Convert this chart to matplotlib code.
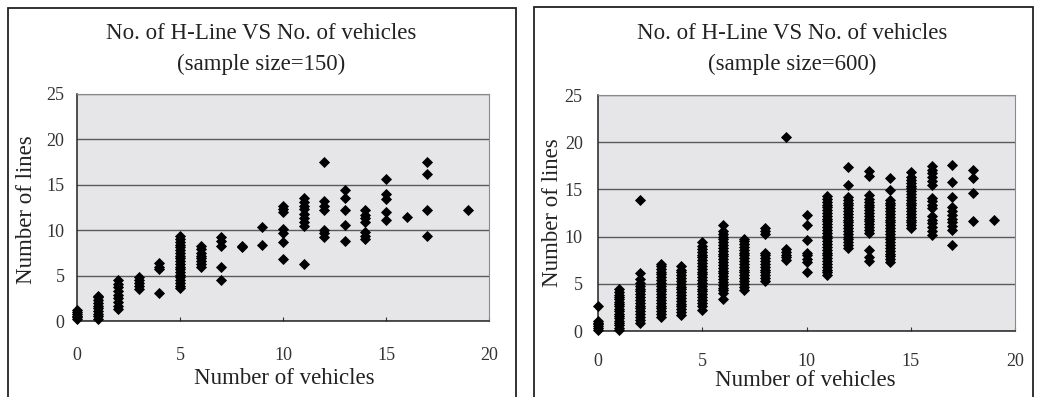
import matplotlib
matplotlib.use("Agg")
import matplotlib.pyplot as plt
from matplotlib.patches import Rectangle

plt.rcParams["font.family"] = ["Liberation Serif", "DejaVu Serif"]

# number of lines observed for each vehicle count, sample of 150
small_counts = {
    0: [0.2, 0.4, 0.6, 0.8, 1.0, 1.2],
    1: [0.2, 0.5, 0.8, 1.1, 1.4, 1.7, 2.0, 2.3, 2.6, 2.8],
    2: [1.3, 1.7, 2.1, 2.5, 2.9, 3.3, 3.7, 4.1, 4.5],
    3: [3.5, 3.9, 4.2, 4.5, 4.9],
    4: [3.1, 5.7, 6.0, 6.4],
    5: [3.6, 3.9, 4.2, 4.5, 4.8, 5.1, 5.4, 5.7, 6.0, 6.3, 6.6, 6.9,
        7.2, 7.5, 7.8, 8.1, 8.4, 8.7, 9.0, 9.4],
    6: [6.0, 6.3, 6.6, 6.9, 7.2, 7.5, 7.9, 8.3],
    7: [4.5, 5.9, 8.3, 8.8, 9.2],
    8: [8.1, 8.3],
    9: [8.4, 10.4],
    10: [6.8, 8.7, 9.7, 10.1, 12.0, 12.3, 12.7],
    11: [6.3, 10.5, 10.9, 11.3, 11.8, 12.3, 12.7, 13.1, 13.6],
    12: [9.2, 9.7, 10.0, 12.2, 12.7, 13.2, 17.5],
    13: [8.8, 10.6, 12.2, 13.5, 14.4],
    14: [9.0, 9.4, 9.8, 10.9, 11.3, 11.7, 12.2],
    15: [11.1, 12.0, 13.4, 14.0, 15.6],
    16: [11.5],
    17: [9.4, 12.2, 16.2, 17.5],
    19: [12.2],
}

# same survey, sample of 600
large_counts = {
    0: [0.1, 0.3, 0.5, 0.7, 0.9, 1.1, 2.6],
    1: [0.1, 0.35, 0.6, 0.85, 1.1, 1.35, 1.6, 1.85, 2.1, 2.35, 2.6, 2.85,
        3.1, 3.35, 3.6, 3.85, 4.1, 4.4],
    2: [0.9, 1.2, 1.5, 1.8, 2.1, 2.4, 2.7, 3.0, 3.3, 3.6, 3.9, 4.2, 4.5,
        4.8, 5.1, 5.5, 6.1, 13.9],
    3: [1.5, 1.8, 2.1, 2.4, 2.7, 3.0, 3.3, 3.6, 3.9, 4.2, 4.5, 4.8, 5.1,
        5.4, 5.7, 6.0, 6.3, 6.6, 6.9, 7.1],
    4: [1.7, 2.0, 2.3, 2.6, 2.9, 3.2, 3.5, 3.8, 4.1, 4.4, 4.7, 5.0, 5.3,
        5.6, 5.9, 6.2, 6.5, 6.9],
    5: [2.2, 2.6, 3.0, 3.3, 3.6, 3.9, 4.2, 4.5, 4.8, 5.1, 5.4, 5.7, 6.0,
        6.3, 6.6, 6.9, 7.2, 7.5, 7.8, 8.1, 8.4, 8.7, 9.0, 9.4],
    6: [3.4, 4.0, 4.3, 4.6, 4.9, 5.2, 5.5, 5.8, 6.1, 6.4, 6.7, 7.0, 7.3,
        7.6, 7.9, 8.2, 8.5, 8.8, 9.1, 9.4, 9.7, 10.0, 10.3, 10.6, 11.2],
    7: [4.3, 4.7, 5.0, 5.3, 5.6, 5.9, 6.2, 6.5, 6.8, 7.1, 7.4, 7.7, 8.0,
        8.3, 8.6, 8.9, 9.2, 9.5, 9.7],
    8: [5.3, 5.6, 5.9, 6.2, 6.5, 6.8, 7.1, 7.4, 7.7, 8.0, 8.3, 10.3, 10.6,
        10.9],
    9: [7.5, 7.8, 8.1, 8.4, 8.7, 20.6],
    10: [6.3, 7.3, 7.6, 8.0, 8.3, 9.6, 11.2, 12.3],
    11: [5.9, 6.2, 6.5, 6.8, 7.1, 7.4, 7.7, 8.0, 8.3, 8.6, 8.9, 9.2, 9.5,
         9.8, 10.1, 10.4, 10.7, 11.0, 11.3, 11.6, 11.9, 12.2, 12.5, 12.8,
         13.1, 13.4, 13.7, 14.0, 14.3],
    12: [8.8, 9.1, 9.4, 9.7, 10.0, 10.3, 10.6, 10.9, 11.2, 11.5, 11.8, 12.1,
         12.4, 12.7, 13.0, 13.3, 13.6, 13.9, 14.2, 15.5, 17.4],
    13: [7.4, 7.8, 8.6, 10.4, 10.7, 11.0, 11.3, 11.6, 11.9, 12.2, 12.5,
         12.8, 13.1, 13.4, 13.7, 14.0, 14.4, 16.4, 17.0],
    14: [7.3, 7.6, 7.9, 8.2, 8.5, 8.8, 9.1, 9.4, 9.7, 10.0, 10.3, 10.6,
         10.9, 11.2, 11.5, 11.8, 12.1, 12.4, 12.7, 13.0, 13.3, 13.6, 13.9,
         14.9, 16.2],
    15: [10.9, 11.2, 11.5, 11.8, 12.1, 12.4, 12.7, 13.0, 13.3, 13.6, 13.9,
         14.2, 14.5, 14.8, 15.1, 15.4, 15.7, 16.0, 16.3, 16.8],
    16: [10.2, 10.6, 11.0, 11.4, 11.8, 12.2, 13.0, 13.4, 13.8, 14.1, 15.5,
         15.9, 16.3, 16.7, 17.1, 17.5],
    17: [9.1, 10.7, 11.1, 11.5, 11.9, 12.3, 12.7, 13.1, 14.2, 15.8, 17.6],
    18: [11.6, 14.6, 16.2, 17.1],
    19: [11.8],
}

panel_titles = ["No. of H-Line VS No. of vehicles\n(sample size=150)",
                "No. of H-Line VS No. of vehicles\n(sample size=600)"]
x_ticks = [0, 5, 10, 15, 20]
y_ticks = [0, 5, 10, 15, 20, 25]

W, H = 1038, 397
fig = plt.figure(figsize=(W / 100, H / 100), dpi=100)


def px_box(left, top, right, bottom):
    return [left / W, 1 - bottom / H, (right - left) / W, (bottom - top) / H]


def flatten(counts):
    xs, ys = [], []
    for x, vals in counts.items():
        xs += [x] * len(vals)
        ys += vals
    return xs, ys


panels = [
    # axes box, outer frame, title centre, xlabel centre, ylabel centre
    dict(data=small_counts, ax=(77, 94, 489, 321), frame=(8, 8, 516, 400),
         title=(261, 49), xlab=(284, 379), ylab=(27, 210), xpad=19, ypad=9),
    dict(data=large_counts, ax=(598, 95, 1015, 331), frame=(534, 7, 1033, 400),
         title=(792, 49), xlab=(805, 381), ylab=(553, 213), xpad=16, ypad=11),
]

for p, title in zip(panels, panel_titles):
    ax = fig.add_axes(px_box(*p["ax"]))
    xs, ys = flatten(p["data"])
    ax.scatter(xs, ys, marker="D", s=32, color="black", linewidths=0,
               zorder=3, clip_on=False)

    ax.set_xlim(0, 20)
    ax.set_ylim(0, 25)
    ax.set_xticks(x_ticks)
    ax.set_yticks(y_ticks)
    ax.set_facecolor("#e6e6e8")
    ax.grid(axis="y", color="#5a5a5a", linewidth=1.0)
    ax.set_axisbelow(True)
    for side in ["top", "right"]:
        ax.spines[side].set_color("#8a8a8a")
    for side in ["left", "bottom"]:
        ax.spines[side].set_color("#222222")
        ax.spines[side].set_linewidth(1.1)
    ax.tick_params(axis="x", direction="in", length=3, pad=p["xpad"],
                   labelsize=13, colors="#333333")
    ax.tick_params(axis="y", direction="in", length=0, pad=p["ypad"],
                   labelsize=13, colors="#333333")

    fig.text(p["title"][0] / W, 1 - p["title"][1] / H, title, ha="center",
             va="center", fontsize=16.5, color="#222222", linespacing=1.6)
    fig.text(p["xlab"][0] / W, 1 - p["xlab"][1] / H, "Number of vehicles",
             ha="center", va="center", fontsize=16.5, color="#222222")
    fig.text(p["ylab"][0] / W, 1 - p["ylab"][1] / H, "Number of lines",
             ha="center", va="center", rotation=90, fontsize=16.5,
             color="#222222")

    l, t, r, b = p["frame"]
    fig.add_artist(Rectangle((l / W, 1 - b / H), (r - l) / W, (b - t) / H,
                             transform=fig.transFigure, fill=False,
                             edgecolor="#222222", linewidth=1.3))

fig.savefig("out.png", dpi=100)
